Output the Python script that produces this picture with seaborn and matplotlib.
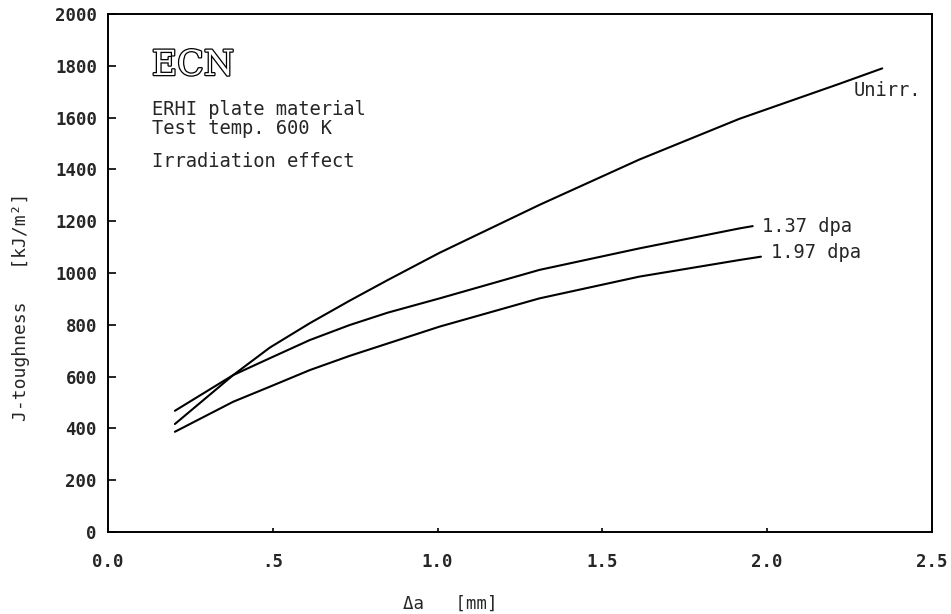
import matplotlib
matplotlib.use("Agg")
import matplotlib.pyplot as plt
import matplotlib.patheffects as pe
import seaborn as sns
import pandas as pd

# Data
unirr_x = [0.203, 0.38, 0.491, 0.612, 0.733, 0.849, 1.006, 1.309, 1.612, 1.915, 2.218, 2.349]
unirr_y = [417, 606, 712, 806, 893, 973, 1078, 1263, 1438, 1595, 1730, 1790]
dpa137_x = [0.203, 0.38, 0.491, 0.612, 0.733, 0.849, 1.006, 1.309, 1.612, 1.915, 1.956]
dpa137_y = [468, 606, 671, 741, 799, 847, 902, 1012, 1095, 1172, 1181]
dpa197_x = [0.203, 0.38, 0.491, 0.612, 0.733, 0.849, 1.006, 1.309, 1.612, 1.915, 1.981]
dpa197_y = [387, 503, 561, 625, 680, 728, 793, 902, 986, 1050, 1063]

series_names = ["Unirr.", "1.37 dpa", "1.97 dpa"]
x_ticks = [0.0, 0.5, 1.0, 1.5, 2.0, 2.5]
x_tick_labels = ["0.0", ".5", "1.0", "1.5", "2.0", "2.5"]
y_ticks = [0, 200, 400, 600, 800, 1000, 1200, 1400, 1600, 1800, 2000]

frames = []
for name, xs, ys in zip(series_names, [unirr_x, dpa137_x, dpa197_x],
                        [unirr_y, dpa137_y, dpa197_y]):
    frames.append(pd.DataFrame({"da": xs, "J": ys, "series": name}))
df = pd.concat(frames, ignore_index=True)

sns.set_style("ticks")
plt.rcParams["font.family"] = ["DejaVu Sans Mono", "DejaVu Sans"]

fig = plt.figure(figsize=(9.51, 6.14), dpi=100)
ax = fig.add_axes([108 / 951, 82 / 614, 824 / 951, 518 / 614])

sns.lineplot(data=df, x="da", y="J", hue="series", units="series",
             estimator=None, sort=False,
             palette={n: "black" for n in series_names},
             linewidth=1.5, legend=False, ax=ax)

ax.set_xlim(0, 2.5)
ax.set_ylim(0, 2000)
ax.set_xticks(x_ticks)
ax.set_xticklabels(x_tick_labels)
ax.set_yticks(y_ticks)
ax.set_yticklabels([str(v) for v in y_ticks])
ax.tick_params(axis="y", direction="in", length=5.8, width=1.2, color="black",
               labelsize=12.5, pad=8)
ax.tick_params(axis="x", direction="in", length=3, width=1.2, color="black",
               labelsize=12.5, pad=15)
for lab in ax.get_xticklabels() + ax.get_yticklabels():
    lab.set_fontweight("bold")
for s in ax.spines.values():
    s.set_visible(True)
    s.set_linewidth(1.4)
    s.set_color("black")
ax.set_xlabel("")
ax.set_ylabel("")

# texts
ax.text(0.133, 1803, "ECN", fontsize=25, family="DejaVu Serif", color="white",
        va="center", ha="left",
        path_effects=[pe.Stroke(linewidth=1.8, foreground="black"), pe.Normal()])
ax.text(0.133, 1633, "ERHI plate material", fontsize=13.5, va="center", ha="left")
ax.text(0.133, 1556, "Test temp. 600 K", fontsize=13.5, va="center", ha="left")
ax.text(0.133, 1432, "Irradiation effect", fontsize=13.5, va="center", ha="left")

ax.text(2.467, 1703, "Unirr.", fontsize=13.5, va="center", ha="right")
ax.text(1.985, 1178, "1.37 dpa", fontsize=13.5, va="center", ha="left")
ax.text(2.012, 1081, "1.97 dpa", fontsize=13.5, va="center", ha="left")

fig.text(0.473, 0.017, "\u0394a   [mm]", fontsize=12.5, ha="center", va="center")
fig.text(0.022, 0.50, "J-toughness   [kJ/m\u00b2]", fontsize=13, ha="center",
         va="center", rotation=90)

fig.savefig("out.png", dpi=100, facecolor="white")
